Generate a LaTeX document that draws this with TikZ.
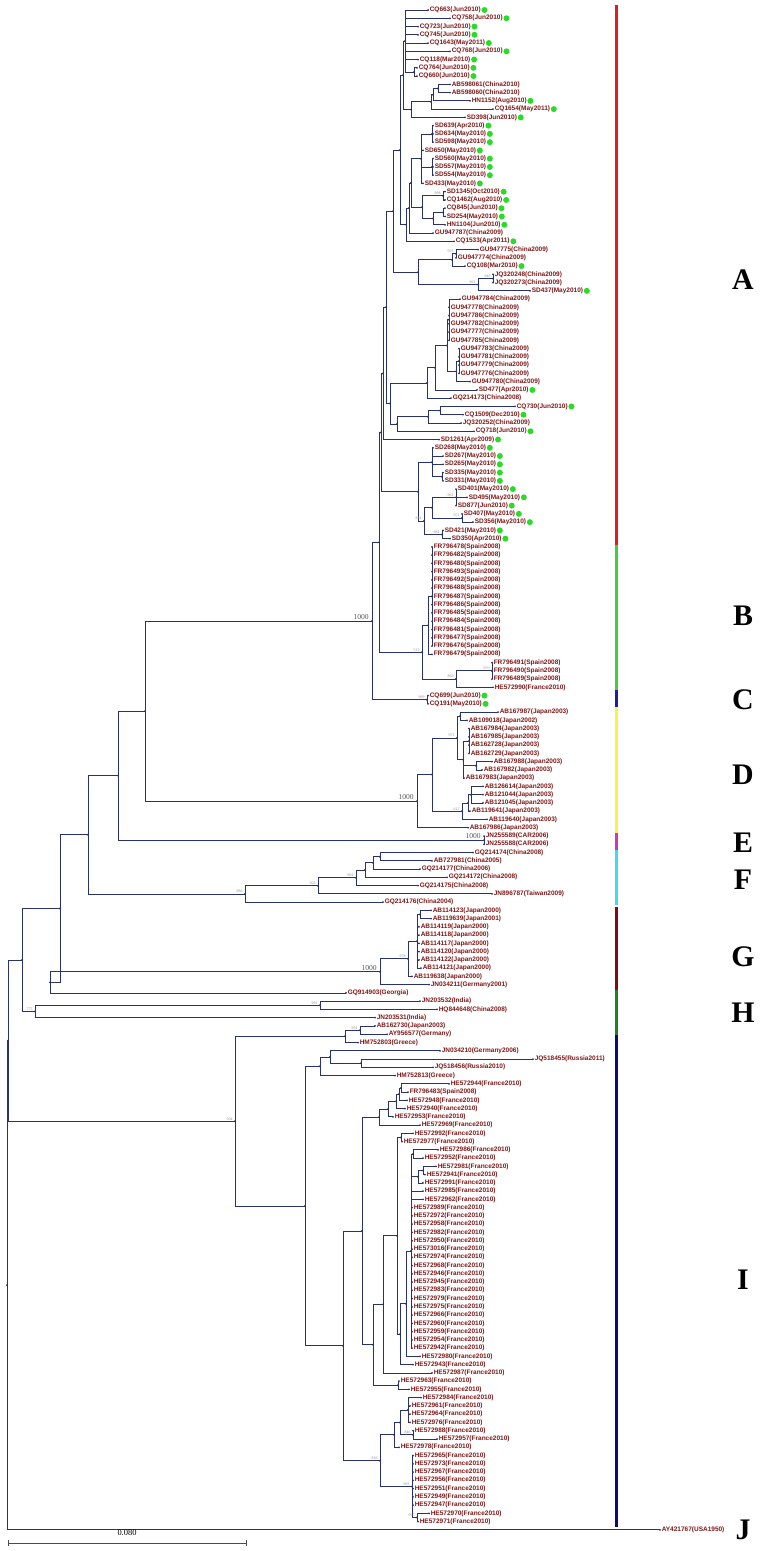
\documentclass[tikz,border=0pt]{standalone}
\usepackage{fontspec}
\setmainfont{Liberation Serif}
\setsansfont{Liberation Sans}
\usetikzlibrary{calc}

\definecolor{treeblue}{RGB}{40,50,110}
\definecolor{taxred}{RGB}{128,24,24}
\definecolor{dotgreen}{RGB}{40,220,40}
\definecolor{barA}{RGB}{225,30,30}
\definecolor{barB}{RGB}{60,210,60}
\definecolor{barC}{RGB}{30,30,160}
\definecolor{barD}{RGB}{250,245,60}
\definecolor{barE}{RGB}{210,50,200}
\definecolor{barF}{RGB}{60,220,235}
\definecolor{barG}{RGB}{130,10,10}
\definecolor{barH}{RGB}{30,130,30}
\definecolor{barI}{RGB}{10,10,120}

% one clade: name, x of the node, children (first and last set the height)
\newcommand\clade[3]{%
  \foreach \kid [count=\kn] in {#3} {\ifnum\kn=1 \xdef\cfirst{\kid}\fi \xdef\clast{\kid}}%
  \coordinate (tmpx) at (#2,0);
  \coordinate (tmpm) at ($(\cfirst)!0.5!(\clast)$);
  \coordinate (#1) at (tmpm -| tmpx);
  \foreach \kid in {#3} {\draw[branch] (#1) |- (\kid);}
  \fill[treeblue] (#1) circle (1.1);
}

\begin{document}
\begin{tikzpicture}[x=0.02cm, y=-0.02cm,
    branch/.style={draw=treeblue, line width=0.45pt},
    taxon/.style={text=taxred, font=\sffamily\bfseries\fontsize{3.7}{4}\selectfont, anchor=west, inner sep=0.8pt},
    boot/.style={text=black!65, font=\fontsize{4.3}{5}\selectfont, anchor=south east, inner sep=0.5pt},
    tinyboot/.style={text=black!45, font=\fontsize{2.2}{2.5}\selectfont, anchor=south east, inner sep=0.4pt},
    letter/.style={font=\bfseries\fontsize{17}{17}\selectfont}]

    \fill[white] (0,0) rectangle (762,1551);
    \useasboundingbox (0,0) rectangle (762,1551);

    % taxa: name / tip x / place and date / marked
    \foreach \nm/\tx/\info/\g [count=\k] in {
      CQ663/428/Jun2010/1, CQ758/450/Jun2010/1, CQ723/418/Jun2010/1, CQ745/418/Jun2010/1,
      CQ1643/428/May2011/1, CQ768/450/Jun2010/1, CQ118/418/Mar2010/1, CQ764/417/Jun2010/1,
      CQ660/417/Jun2010/1, AB598061/450/China2010/0, AB598060/450/China2010/0, HN1152/470/Aug2010/1,
      CQ1654/493/May2011/1, SD398/465/Jun2010/1, SD639/433/Apr2010/1, SD634/433/May2010/1,
      SD598/433/May2010/1, SD650/423/May2010/1, SD560/433/May2010/1, SD557/433/May2010/1,
      SD554/433/May2010/1, SD433/423/May2010/1, SD1345/445/Oct2010/1, CQ1462/445/Aug2010/1,
      CQ845/445/Jun2010/1, SD254/445/May2010/1, HN1104/445/Jun2010/1, GU947787/433/China2009/0,
      CQ1533/454/Apr2011/1, GU947775/478/China2009/0, GU947774/456/China2009/0, CQ108/465/Mar2010/1,
      JQ320248/493/China2009/0, JQ320273/493/China2009/0, SD437/530/May2010/1, GU947784/460/China2009/0,
      GU947778/449/China2009/0, GU947786/449/China2009/0, GU947782/449/China2009/0, GU947777/449/China2009/0,
      GU947785/449/China2009/0, GU947783/459/China2009/0, GU947781/459/China2009/0, GU947779/459/China2009/0,
      GU947776/459/China2009/0, GU947780/470/China2009/0, SD477/477/Apr2010/1, GQ214173/451/China2008/0,
      CQ730/515/Jun2010/1, CQ1509/463/Dec2010/1, JQ320252/461/China2009/0, CQ718/474/Jun2010/1,
      SD1261/439/Apr2009/1, SD268/433/May2010/1, SD267/443/May2010/1, SD265/443/May2010/1,
      SD335/443/May2010/1, SD331/443/May2010/1, SD401/456/May2010/1, SD495/467/May2010/1,
      SD877/456/Jun2010/1, SD407/462/May2010/1, SD356/473/May2010/1, SD421/443/May2010/1,
      SD350/450/Apr2010/1,
      FR796478/432/Spain2008/0, FR796482/432/Spain2008/0, FR796480/432/Spain2008/0, FR796493/432/Spain2008/0,
      FR796492/432/Spain2008/0, FR796488/432/Spain2008/0, FR796487/432/Spain2008/0, FR796486/432/Spain2008/0,
      FR796485/432/Spain2008/0, FR796484/432/Spain2008/0, FR796481/432/Spain2008/0, FR796477/432/Spain2008/0,
      FR796476/432/Spain2008/0, FR796479/432/Spain2008/0, FR796491/492/Spain2008/0, FR796490/492/Spain2008/0,
      FR796489/492/Spain2008/0, HE572990/493/France2010/0,
      CQ699/428/Jun2010/1, CQ191/428/May2010/1,
      AB167987/498/Japan2003/0, AB109018/467/Japan2002/0, AB167984/469/Japan2003/0, AB167985/469/Japan2003/0,
      AB162728/469/Japan2003/0, AB162729/469/Japan2003/0, AB167988/492/Japan2003/0, AB167982/482/Japan2003/0,
      AB167983/464/Japan2003/0, AB126614/483/Japan2003/0, AB121044/483/Japan2003/0, AB121045/483/Japan2003/0,
      AB119641/470/Japan2003/0, AB119640/487/Japan2003/0, AB167986/468/Japan2003/0,
      JN255589/484/CAR2006/0, JN255588/484/CAR2006/0,
      GQ214174/473/China2008/0, AB727981/432/China2005/0, GQ214177/420/China2006/0, GQ214172/447/China2008/0,
      GQ214175/418/China2008/0, JN896787/492/Taiwan2009/0, GQ214176/383/China2004/0,
      AB114123/431/Japan2000/0, AB119639/431/Japan2001/0, AB114119/419/Japan2000/0, AB114118/419/Japan2000/0,
      AB114117/419/Japan2000/0, AB114120/419/Japan2000/0, AB114122/419/Japan2000/0, AB114121/421/Japan2000/0,
      AB119638/412/Japan2000/0, JN034211/429/Germany2001/0,
      GQ914903/346/Georgia/0, JN203532/420/India/0, HQ844648/437/China2008/0, JN203531/375/India/0,
      AB162730/375/Japan2003/0, AY956577/387/Germany/0, HM752803/358/Greece/0, JN034210/440/Germany2006/0,
      JQ518455/533/Russia2011/0, JQ518456/433/Russia2010/0, HM752813/395/Greece/0,
      HE572944/449/France2010/0, FR796483/408/Spain2008/0, HE572948/407/France2010/0, HE572940/405/France2010/0,
      HE572953/393/France2010/0, HE572969/420/France2010/0, HE572992/413/France2010/0, HE572977/402/France2010/0,
      HE572986/438/France2010/0, HE572952/423/France2010/0, HE572981/436/France2010/0, HE572941/425/France2010/0,
      HE572991/423/France2010/0, HE572985/423/France2010/0, HE572962/423/France2010/0, HE572989/412/France2010/0,
      HE572972/412/France2010/0, HE572958/412/France2010/0, HE572982/412/France2010/0, HE572950/412/France2010/0,
      HE573016/412/France2010/0, HE572974/412/France2010/0, HE572968/412/France2010/0, HE572946/412/France2010/0,
      HE572945/412/France2010/0, HE572983/412/France2010/0, HE572979/412/France2010/0, HE572975/412/France2010/0,
      HE572966/412/France2010/0, HE572960/412/France2010/0, HE572959/412/France2010/0, HE572954/412/France2010/0,
      HE572942/412/France2010/0, HE572980/420/France2010/0, HE572943/413/France2010/0, HE572987/432/France2010/0,
      HE572963/399/France2010/0, HE572955/409/France2010/0, HE572984/421/France2010/0, HE572961/410/France2010/0,
      HE572964/410/France2010/0, HE572976/410/France2010/0, HE572988/413/France2010/0, HE572957/437/France2010/0,
      HE572978/399/France2010/0, HE572965/413/France2010/0, HE572973/413/France2010/0, HE572967/413/France2010/0,
      HE572956/413/France2010/0, HE572951/413/France2010/0, HE572949/413/France2010/0, HE572947/413/France2010/0,
      HE572970/429/France2010/0, HE572971/418/France2010/0,
      AY421767/660/USA1950/0} {
      \coordinate (\nm) at (\tx, {10+(\k-1)*8.26});
      \fill[treeblue] (\nm) circle (1);
      \node[taxon] (\nm-l) at (\nm) {\nm(\info)};
      \ifnum\g=1 \fill[dotgreen] ($(\nm-l.east)+(2,0)$) circle (3);\fi
    }

    % clade A
    \clade{ta}{414}{CQ764,CQ660}
    \clade{tb}{405}{CQ663,CQ758,CQ723,CQ745,CQ1643,CQ768,CQ118,ta}
    \clade{tc}{438}{AB598061,AB598060}
    \clade{td}{433}{tc,HN1152}
    \clade{te}{431}{td,CQ1654}
    \clade{tf}{411}{te,SD398}
    \clade{tg}{403}{tb,tf}
    \clade{sa}{432}{SD639,SD634,SD598}
    \clade{sb}{432}{SD560,SD557,SD554}
    \clade{sc}{421}{sa,SD650,sb,SD433}
    \clade{ua}{443}{SD1345,CQ1462}
    \clade{ub}{443}{CQ845,SD254}
    \clade{uc}{433}{ub,HN1104}
    \clade{ud}{422}{ua,uc}
    \clade{se}{411}{sc,ud}
    \clade{sf}{409}{se,GU947787}
    \clade{sg}{406}{sf,CQ1533}
    \clade{ah}{400}{tg,sg}
    \clade{ga}{456}{GU947775,GU947774}
    \clade{gb}{452}{ga,CQ108}
    \clade{ja}{493}{JQ320248,JQ320273}
    \clade{jb}{478}{ja,SD437}
    \clade{gc}{418}{gb,jb}
    \clade{ai}{393}{ah,gc}
    \clade{ka}{449}{GU947784,GU947778,GU947786,GU947782,GU947777,GU947785}
    \clade{kb}{459}{GU947783,GU947781,GU947779,GU947776}
    \clade{kc}{456}{kb,GU947780}
    \clade{kd}{447}{ka,kc}
    \clade{ke}{435}{kd,SD477}
    \clade{kf}{427}{ke,GQ214173}
    \clade{ma}{440}{CQ730,CQ1509}
    \clade{mb}{428}{ma,JQ320252}
    \clade{mc}{397}{mb,CQ718}
    \clade{kg}{390}{kf,mc}
    \clade{aj}{386}{ai,kg}
    \clade{ak}{383}{aj,SD1261}
    \clade{va}{442}{SD335,SD331}
    \clade{vb}{432}{SD268,SD267,SD265,va}
    \clade{vc}{456}{SD401,SD495,SD877}
    \clade{vd}{462}{SD407,SD356}
    \clade{ve}{432}{vc,vd}
    \clade{vf}{442}{SD421,SD350}
    \clade{vg}{424}{ve,vf}
    \clade{vh}{418}{vb,vg}
    \clade{cA}{381}{ak,vh}
    % clades B and C
    \clade{ba}{432}{FR796478,FR796482,FR796480,FR796493,FR796492,FR796488,FR796487,FR796486,FR796485,FR796484,FR796481,FR796477,FR796476}
    \clade{bb}{428}{ba,FR796479}
    \clade{bc}{492}{FR796491,FR796490,FR796489}
    \clade{bd}{456}{bc,HE572990}
    \clade{cB}{422}{bb,bd}
    \clade{ab}{379}{cA,cB}
    \clade{cC}{427}{CQ699,CQ191}
    \clade{abc}{372}{ab,cC}
    % clades D and E
    \clade{da}{460}{AB167987,AB109018}
    \clade{db}{469}{AB167984,AB167985,AB162728,AB162729}
    \clade{dc}{476}{AB167988,AB167982}
    \clade{dd}{463}{db,dc,AB167983}
    \clade{de}{457}{da,dd}
    \clade{df}{471}{AB126614,AB121044,AB121045}
    \clade{dg}{468}{df,AB119641}
    \clade{dh}{462}{dg,AB119640}
    \clade{di}{432}{de,dh}
    \clade{cD}{417}{di,AB167986}
    \clade{cE}{484}{JN255589,JN255588}
    % clade F
    \clade{fa}{380}{GQ214174,AB727981}
    \clade{fb}{373}{fa,GQ214177}
    \clade{fc}{365}{fb,GQ214172}
    \clade{fd}{356}{fc,GQ214175}
    \clade{fe}{318}{fd,JN896787}
    \clade{cF}{245}{fe,GQ214176}
    % clades G and H
    \clade{ea}{420}{AB114123,AB119639}
    \clade{eb}{417}{ea,AB114119,AB114118,AB114117,AB114120,AB114122,AB114121}
    \clade{ec}{408}{eb,AB119638}
    \clade{cG}{380}{ec,JN034211}
    \clade{ha}{320}{JN203532,HQ844648}
    % clade I
    \clade{ia}{360}{AB162730,AY956577}
    \clade{ib}{345}{ia,HM752803}
    \clade{ic}{361}{JQ518455,JQ518456}
    \clade{id}{330}{JN034210,ic}
    \clade{ie}{320}{id,HM752813}
    \clade{pa}{401}{HE572944,FR796483}
    \clade{pb}{399}{pa,HE572948}
    \clade{pc}{396}{pb,HE572940}
    \clade{pd}{388}{pc,HE572953}
    \clade{pe}{379}{pd,HE572969}
    \clade{qa}{401}{HE572992,HE572977}
    \clade{qb}{413}{HE572986,HE572952}
    \clade{qc}{423}{HE572981,HE572941}
    \clade{qd}{418}{qc,HE572991}
    \clade{qe}{411}{qb,qd,HE572985,HE572962,HE572989,HE572972,HE572958,HE572982,HE572950,HE573016,HE572974,HE572968,HE572946,HE572945,HE572983,HE572979,HE572975,HE572966,HE572960,HE572959,HE572954,HE572942}
    \clade{qf}{406}{qe,HE572980}
    \clade{qg}{400}{qf,HE572943}
    \clade{qh}{397}{qa,qg}
    \clade{qi}{383}{qh,HE572987}
    \clade{qj}{398}{HE572963,HE572955}
    \clade{qk}{373}{qi,qj}
    \clade{ql}{362}{pe,qk}
    \clade{ra}{408}{HE572984,HE572961,HE572964,HE572976}
    \clade{rb}{413}{HE572988,HE572957}
    \clade{rc}{400}{ra,rb}
    \clade{rd}{394}{rc,HE572978}
    \clade{re}{417}{HE572970,HE572971}
    \clade{rf}{412}{HE572965,HE572973,HE572967,HE572956,HE572951,HE572949,HE572947,re}
    \clade{rg}{380}{rd,rf}
    \clade{qm}{343}{ql,rg}
    \clade{in}{305}{ie,qm}
    \clade{cI}{235}{ib,in}
    % backbone
    \clade{gh}{50}{cG,GQ914903}
    \clade{hb}{35}{ha,JN203531}
    \clade{n1}{145}{abc,cD}
    \clade{n2}{118}{n1,cE}
    \clade{n3}{88}{n2,cF}
    \clade{n4}{60}{n3,gh}
    \clade{n5}{22}{n4,hb}
    \clade{ing}{8}{n5,cI}
    \clade{root}{7}{ing,AY421767}

    % support values
    \foreach \nd in {abc, cD, cE, cG}
      \node[boot] at ($(\nd)+(-2,0)$) {1000};
    \foreach \nd/\bv in {ua/998, ga/976, ja/949, jb/961, vc/961, vg/844, vd/951, vf/982,
        cB/512, bc/976, bd/869, cC/999, de/971, dh/612, fd/891, fe/503, cF/886, ec/978,
        ha/991, hb/775, ia/991, cI/504, rg/826, rb/846, rf/993, re/997}
      \node[tinyboot] at ($(\nd)+(-1.5,0)$) {\bv};

    % clade bars and letters
    \fill[barA] (615,5) rectangle (618,545);
    \fill[barB] (615,545) rectangle (618,690);
    \fill[barC] (615,690) rectangle (618,707);
    \fill[barD] (615,707) rectangle (618,833);
    \fill[barE] (615,833) rectangle (618,850);
    \fill[barF] (615,850) rectangle (618,905);
    \fill[barG] (615,907) rectangle (618,990);
    \fill[barH] (615,990) rectangle (618,1035);
    \fill[barI] (615,1035) rectangle (618,1527);
    \foreach \lt/\ly in {A/280, B/616, C/700, D/775, E/843, F/880, G/957, H/1013, I/1280, J/1530}
      \node[letter] (lt-\lt) at (743,\ly) {\lt};

    % scale bar
    \coordinate (sbl) at (8,1543);
    \coordinate (sbr) at (246,1543);
    \draw[black!70, line width=0.4pt] (sbl) -- (sbr);
    \draw[black!70, line width=0.4pt] (sbl) ++(0,-3) -- ++(0,6) (sbr) ++(0,-3) -- ++(0,6);
    \node[font=\fontsize{4.8}{5}\selectfont, above=0.5pt] (sblab) at ($(sbl)!0.5!(sbr)$) {0.080};
\end{tikzpicture}
\end{document}
